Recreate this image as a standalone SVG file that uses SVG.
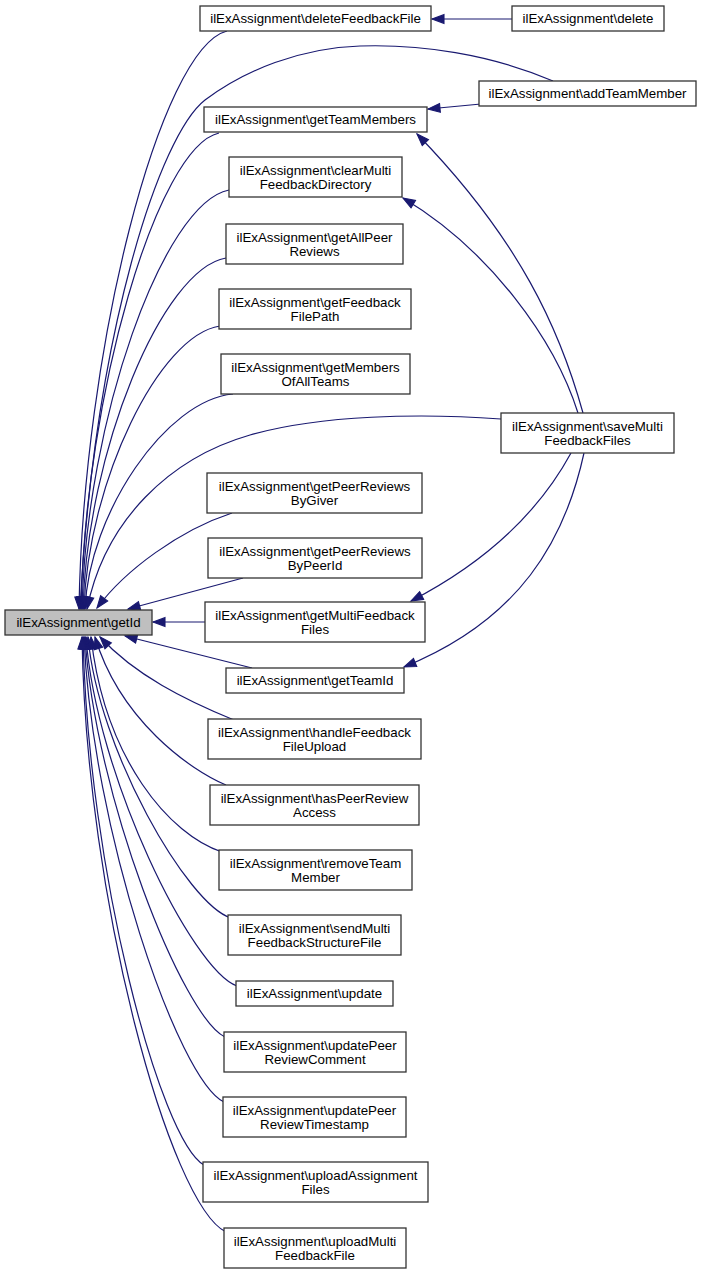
<svg xmlns="http://www.w3.org/2000/svg" width="703" height="1275" viewBox="0 0 703 1275">
<style>
.n rect{fill:#ffffff;stroke:#333333;stroke-width:1.3}
.n text{font-family:"Liberation Sans",Arial,sans-serif;font-size:13.3px;fill:#000000;text-anchor:middle}
#getId rect{fill:#bfbfbf}
.e path{fill:none;stroke:#191970;stroke-width:1.2;marker-end:url(#arr)}
</style>
<defs>
<marker id="arr" markerUnits="userSpaceOnUse" markerWidth="12" markerHeight="9" refX="11" refY="4" orient="auto" viewBox="0 0 11 8" overflow="visible">
<path d="M0,0 L11,4 L0,8 z" fill="#191970" stroke="#191970" stroke-width="1"/>
</marker>
</defs>
<rect width="703" height="1275" fill="#ffffff"/>
<g class="e" id="connectors">
<path d="M512,19 L432,19"/>
<path d="M481,104 L428,109"/>
<path d="M583,413 C560,330 520,240 417,134"/>
<path d="M578,413 C555,340 490,250 403,198"/>
<path d="M571,453 C540,510 490,560 411,601"/>
<path d="M584,453 C565,540 520,620 404,667"/>
<path d="M227,31 C160,48 83,350 79,609"/>
<path d="M553,81 C490,54 420,44 360,46 C300,48 245,70 205,100 C160,135 95,330 80,609"/>
<path d="M219,133 C157,147 85,395 81,609"/>
<path d="M229,190 C163,203 86,421 82,609"/>
<path d="M226,258 C162,269 87,452 83,609"/>
<path d="M220,326 C159,335 88,482 84,609"/>
<path d="M233,394 C166,400 89,513 85,609"/>
<path d="M501,419 C420,413 320,415 250,435 C170,458 105,520 87,609"/>
<path d="M232,513 C180,530 125,570 97,608"/>
<path d="M243,578 L128,609"/>
<path d="M205,622 L153,622"/>
<path d="M252,668 L125,636"/>
<path d="M234,720 C185,700 135,675 100,637"/>
<path d="M226,785 C190,770 120,720 95,637"/>
<path d="M222,852 C170,835 105,760 91,637"/>
<path d="M231,918 C188,905 98,750 88,637"/>
<path d="M237,986 C192,970 96,775 86,637"/>
<path d="M225,1037 C183,1017 95,797 85,637"/>
<path d="M224,1102 C178,1080 92,830 84,637"/>
<path d="M204,1165 C160,1140 88,870 83,637"/>
<path d="M226,1232 C170,1205 86,900 82,637"/>
</g>
<g class="n" id="getId"><rect x="5" y="610" width="147" height="25"/><text x="78.5" y="627">ilExAssignment\getId</text></g>
<g class="n" id="deleteFeedbackFile"><rect x="200" y="6" width="231" height="25"/><text x="315.5" y="23">ilExAssignment\deleteFeedbackFile</text></g>
<g class="n" id="delete"><rect x="512" y="6" width="152" height="25"/><text x="588" y="23">ilExAssignment\delete</text></g>
<g class="n" id="addTeamMember"><rect x="479" y="81" width="217" height="25"/><text x="587.5" y="98">ilExAssignment\addTeamMember</text></g>
<g class="n" id="getTeamMembers"><rect x="204" y="107" width="223" height="25"/><text x="315.5" y="124">ilExAssignment\getTeamMembers</text></g>
<g class="n" id="clearMultiFeedbackDirectory"><rect x="229" y="157" width="173" height="40"/><text x="315.5" y="174.5">ilExAssignment\clearMulti</text><text x="315.5" y="188.5">FeedbackDirectory</text></g>
<g class="n" id="getAllPeerReviews"><rect x="226" y="224" width="177" height="40"/><text x="314.5" y="241.5">ilExAssignment\getAllPeer</text><text x="314.5" y="255.5">Reviews</text></g>
<g class="n" id="getFeedbackFilePath"><rect x="219" y="289" width="192" height="40"/><text x="315" y="306.5">ilExAssignment\getFeedback</text><text x="315" y="320.5">FilePath</text></g>
<g class="n" id="getMembersOfAllTeams"><rect x="221" y="354" width="189" height="40"/><text x="315.5" y="371.5">ilExAssignment\getMembers</text><text x="315.5" y="385.5">OfAllTeams</text></g>
<g class="n" id="saveMultiFeedbackFiles"><rect x="501" y="413" width="173" height="40"/><text x="587.5" y="430.5">ilExAssignment\saveMulti</text><text x="587.5" y="444.5">FeedbackFiles</text></g>
<g class="n" id="getPeerReviewsByGiver"><rect x="207" y="473" width="215" height="40"/><text x="314.5" y="490.5">ilExAssignment\getPeerReviews</text><text x="314.5" y="504.5">ByGiver</text></g>
<g class="n" id="getPeerReviewsByPeerId"><rect x="208" y="538" width="214" height="40"/><text x="315" y="555.5">ilExAssignment\getPeerReviews</text><text x="315" y="569.5">ByPeerId</text></g>
<g class="n" id="getMultiFeedbackFiles"><rect x="205" y="602" width="220" height="40"/><text x="315" y="619.5">ilExAssignment\getMultiFeedback</text><text x="315" y="633.5">Files</text></g>
<g class="n" id="getTeamId"><rect x="226" y="668" width="178" height="25"/><text x="315" y="685">ilExAssignment\getTeamId</text></g>
<g class="n" id="handleFeedbackFileUpload"><rect x="208" y="719" width="213" height="40"/><text x="314.5" y="736.5">ilExAssignment\handleFeedback</text><text x="314.5" y="750.5">FileUpload</text></g>
<g class="n" id="hasPeerReviewAccess"><rect x="210" y="785" width="209" height="40"/><text x="314.5" y="802.5">ilExAssignment\hasPeerReview</text><text x="314.5" y="816.5">Access</text></g>
<g class="n" id="removeTeamMember"><rect x="219" y="850" width="193" height="40"/><text x="315.5" y="867.5">ilExAssignment\removeTeam</text><text x="315.5" y="881.5">Member</text></g>
<g class="n" id="sendMultiFeedbackStructureFile"><rect x="228" y="915" width="173" height="40"/><text x="314.5" y="932.5">ilExAssignment\sendMulti</text><text x="314.5" y="946.5">FeedbackStructureFile</text></g>
<g class="n" id="update"><rect x="236" y="981" width="157" height="25"/><text x="314.5" y="998">ilExAssignment\update</text></g>
<g class="n" id="updatePeerReviewComment"><rect x="224" y="1032" width="182" height="40"/><text x="315" y="1049.5">ilExAssignment\updatePeer</text><text x="315" y="1063.5">ReviewComment</text></g>
<g class="n" id="updatePeerReviewTimestamp"><rect x="223" y="1097" width="183" height="40"/><text x="314.5" y="1114.5">ilExAssignment\updatePeer</text><text x="314.5" y="1128.5">ReviewTimestamp</text></g>
<g class="n" id="uploadAssignmentFiles"><rect x="203" y="1162" width="225" height="40"/><text x="315.5" y="1179.5">ilExAssignment\uploadAssignment</text><text x="315.5" y="1193.5">Files</text></g>
<g class="n" id="uploadMultiFeedbackFile"><rect x="224" y="1228" width="182" height="40"/><text x="315" y="1245.5">ilExAssignment\uploadMulti</text><text x="315" y="1259.5">FeedbackFile</text></g>
</svg>
